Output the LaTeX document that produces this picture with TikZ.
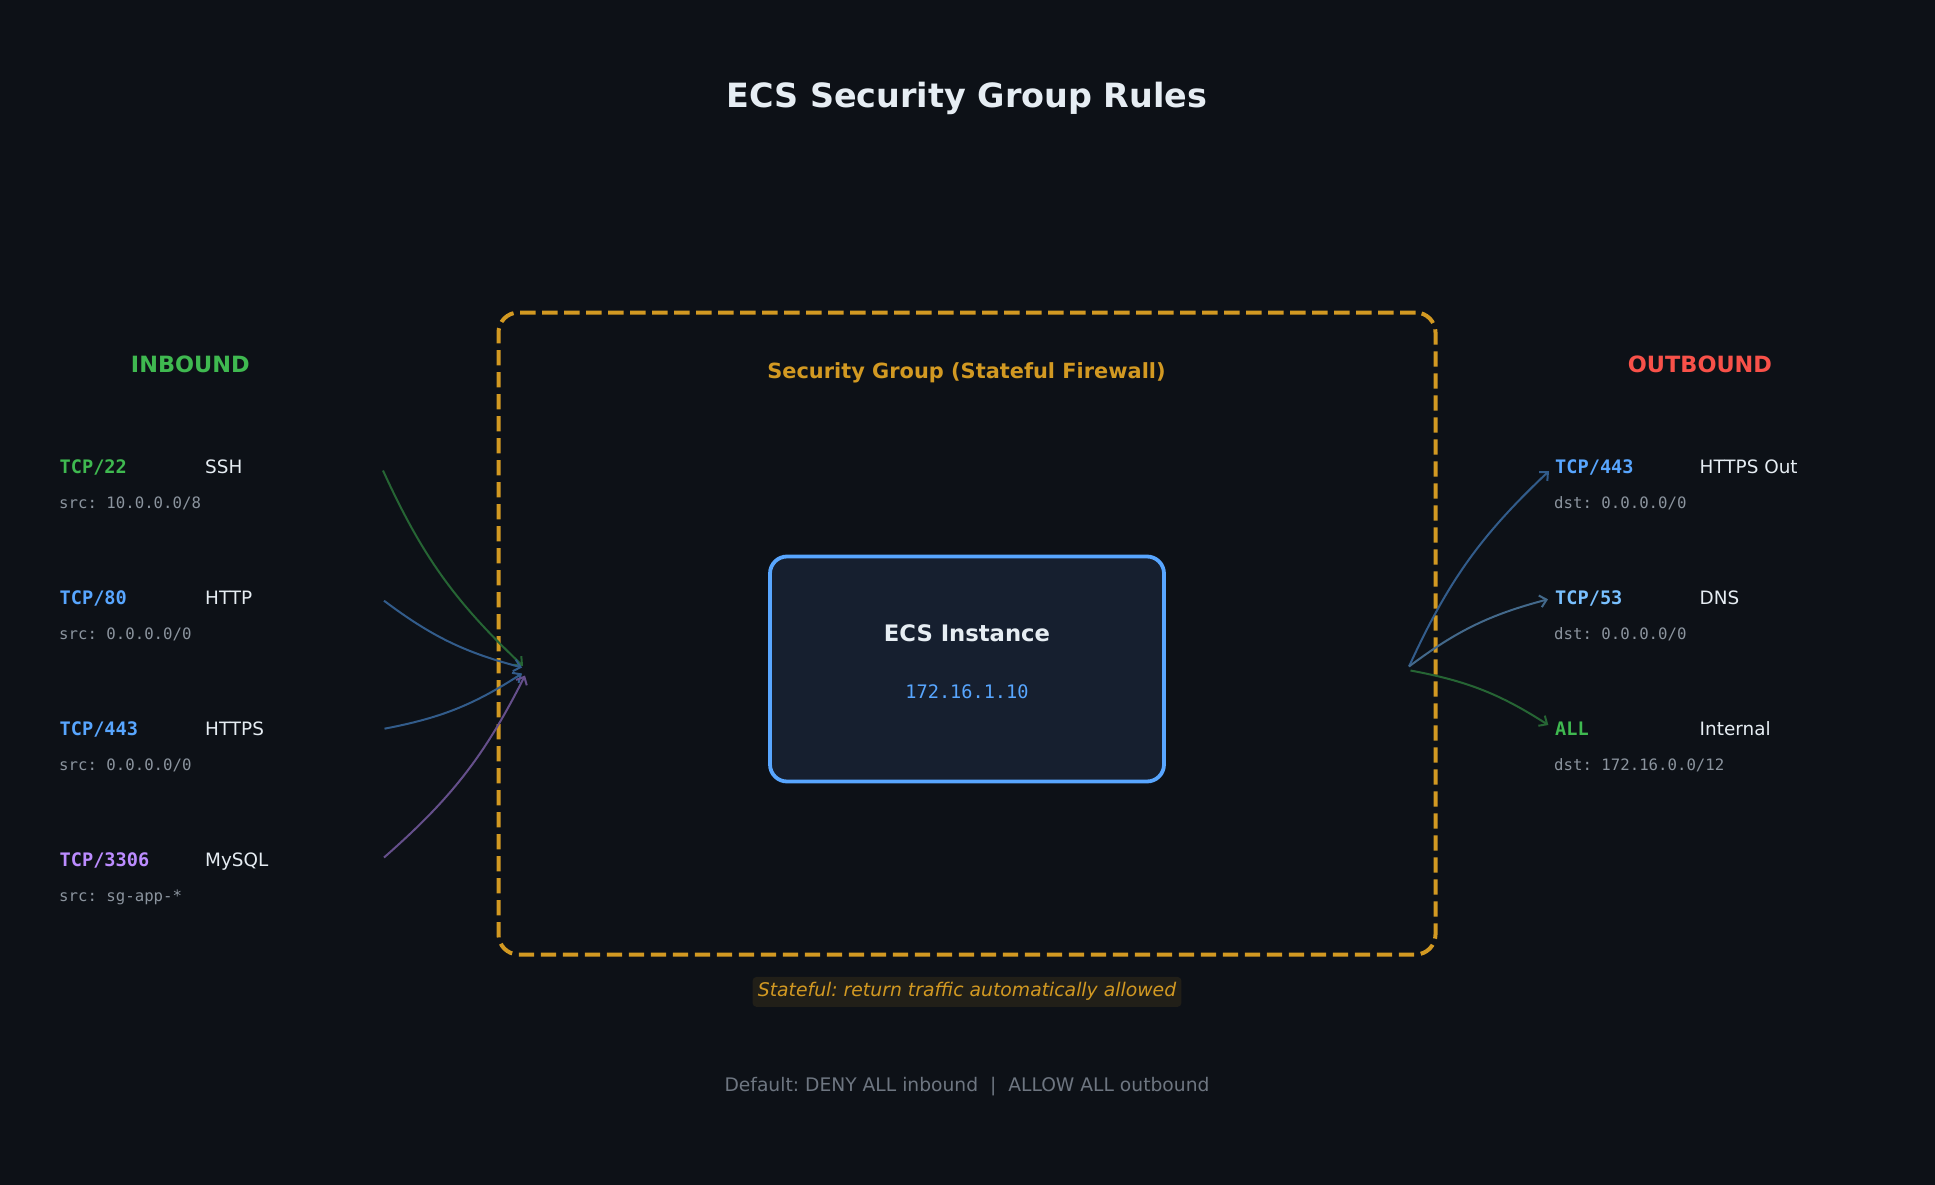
\documentclass[tikz,border=0pt]{standalone}
\usepackage{fontspec}
\setmainfont{DejaVu Sans}
\setmonofont{DejaVu Sans Mono}
\usetikzlibrary{arrows.meta}
\definecolor{bg}{HTML}{0D1117}
\definecolor{fgw}{HTML}{E6EDF3}
\definecolor{gry}{HTML}{8B949E}
\definecolor{dgry}{HTML}{6E7681}
\definecolor{grn}{HTML}{3FB950}
\definecolor{blu}{HTML}{58A6FF}
\definecolor{lblu}{HTML}{79C0FF}
\definecolor{pur}{HTML}{BC8CFF}
\definecolor{red}{HTML}{F85149}
\definecolor{gold}{HTML}{D29922}
\definecolor{ecsfill}{HTML}{161F2F}
\newcommand\myfs[1]{\fontsize{#1pt}{#1pt}\selectfont}
\frenchspacing
\begin{document}
\frenchspacing
\begin{tikzpicture}[x=1pt,y=-1pt,
  txt/.style={inner sep=0pt, anchor=base},
  txtw/.style={inner sep=0pt, anchor=base west},
  proto/.style={txtw, font=\ttfamily\bfseries\myfs{18.6}},
  pname/.style={txtw, font=\myfs{18.4}, text=fgw},
  addr/.style={txtw, font=\ttfamily\myfs{15.7}, text=gry},
  conn/.style={line width=2pt, -{Straight Barb[length=6.5pt,width=12pt]}},
]
\fill[bg] (0,0) rectangle (1935,1185);
\useasboundingbox (0,0) rectangle (1935,1185);

% title
\node[txt, font=\bfseries\myfs{33.4}, text=fgw] (title) at (967,107.7) {ECS Security Group Rules};

% security group box
\node[draw=gold, line width=4pt, dash pattern=on 15.3pt off 6.7pt, rounded corners=20pt,
      minimum width=937pt, minimum height=642pt, inner sep=0pt] (sg) at (967,633.5) {};
\node[txt, font=\bfseries\myfs{20.9}, text=gold] (sglabel) at (966.5,378.6) {Security Group (Stateful Firewall)};

% ECS instance
\node[draw=blu, fill=ecsfill, line width=3.8pt, rounded corners=17pt,
      minimum width=394pt, minimum height=225pt, inner sep=0pt] (ecs) at (967,669) {};
\node[txt, font=\bfseries\myfs{22.7}, text=fgw] (ecsname) at (967,641.2) {ECS Instance};
\node[txt, font=\ttfamily\myfs{18.6}, text=blu] (ecsip) at (967,698.6) {172.16.1.10};

% headers
\node[txt, font=\bfseries\myfs{22.4}, text=grn] (inb) at (190.3,372.2) {INBOUND};
\node[txt, font=\bfseries\myfs{22.4}, text=red] (outb) at (1700,372) {OUTBOUND};

% inbound rules
\node[proto, text=grn] (p1) at (59.5,473) {TCP/22};
\node[pname] (n1) at (205,473) {SSH};
\node[addr] (a1) at (59,508.3) {src: 10.0.0.0/8};
\node[proto, text=blu] (p2) at (59.5,604.3) {TCP/80};
\node[pname] (n2) at (205,604.3) {HTTP};
\node[addr] (a2) at (59,639.5) {src: 0.0.0.0/0};
\node[proto, text=blu] (p3) at (59.5,735.2) {TCP/443};
\node[pname] (n3) at (205,735.2) {HTTPS};
\node[addr] (a3) at (59,770.4) {src: 0.0.0.0/0};
\node[proto, text=pur] (p4) at (59.5,866.5) {TCP/3306};
\node[pname] (n4) at (205,866.5) {MySQL};
\node[addr] (a4) at (59,901.7) {src: sg-app-*};

% outbound rules
\node[proto, text=blu] (q1) at (1555,473) {TCP/443};
\node[pname] (m1) at (1699.5,473) {HTTPS Out};
\node[addr] (b1) at (1554,508.3) {dst: 0.0.0.0/0};
\node[proto, text=lblu] (q2) at (1555,604.3) {TCP/53};
\node[pname] (m2) at (1699.5,604.3) {DNS};
\node[addr] (b2) at (1554,639.5) {dst: 0.0.0.0/0};
\node[proto, text=grn] (q3) at (1555,735.2) {ALL};
\node[pname] (m3) at (1699.5,735.2) {Internal};
\node[addr] (b3) at (1554,770.4) {dst: 172.16.0.0/12};

% connector end points
\coordinate (is1) at (383,470.5);
\coordinate (is2) at (384,600.7);
\coordinate (is3) at (384.5,728.7);
\coordinate (is4) at (384,857.5);
\coordinate (ie1) at (523,666);
\coordinate (ie2) at (522,667.5);
\coordinate (ie3) at (522,673.5);
\coordinate (ie4) at (525,675.5);
\coordinate (os) at (1409,666.5);
\coordinate (os3) at (1410.5,670.5);
\coordinate (oe1) at (1549,471);
\coordinate (oe2) at (1548,599.3);
\coordinate (oe3) at (1548.3,725);

% inbound connectors
\draw[conn, draw=grn!50!bg] (is1) to[bend right=11] (ie1);
\draw[conn, draw=blu!50!bg] (is2) to[bend right=11] (ie2);
\draw[conn, draw=blu!50!bg] (is3) to[bend right=11] (ie3);
\draw[conn, draw=pur!50!bg] (is4) to[bend right=11] (ie4);

% outbound connectors
\draw[conn, draw=blu!50!bg] (os) to[bend left=11] (oe1);
\draw[conn, draw=lblu!50!bg] (os) to[bend left=11] (oe2);
\draw[conn, draw=grn!50!bg] (os3) to[bend left=11] (oe3);

% notes
\node[txt, fill=gold!10!bg, rounded corners=4pt, inner xsep=5.3pt, inner ysep=5.3pt,
      text height=14.5pt, text depth=4.9pt, font=\itshape\myfs{18.8}, text=gold] (stateful) at (967,996.7)
      {Stateful: return traffic automatically allowed};
\node[txt, font=\myfs{18.7}, text=dgry] (default) at (967,1091.7)
      {Default: DENY ALL inbound\ \ |\ \ ALLOW ALL outbound};
\end{tikzpicture}
\end{document}
